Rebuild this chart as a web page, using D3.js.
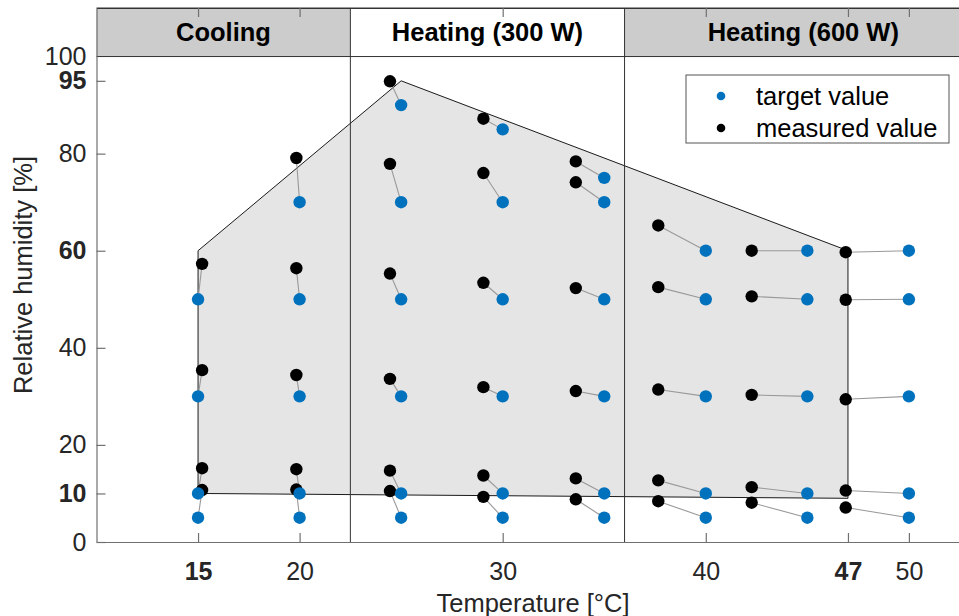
<!DOCTYPE html>
<html>
<head>
<meta charset="utf-8">
<script src="https://cdn.jsdelivr.net/npm/d3@7"></script>
<style>
  html, body { margin: 0; padding: 0; background: #fff; }
  svg { display: block; font-family: "Liberation Sans", Arial, Helvetica, sans-serif; }
</style>
</head>
<body>
<svg id="chart" width="959" height="616"></svg>
<script>
// ---- Data ----
const targetT   = [15,15,15,15, 20,20,20,20,20, 25,25,25,25,25,25, 30,30,30,30,30,30, 35,35,35,35,35,35, 40,40,40,40,40, 45,45,45,45,45, 50,50,50,50,50];
const targetH   = [5,10,30,50, 5,10,30,50,70, 5,10,30,50,70,90, 5,10,30,50,70,85, 5,10,30,50,70,75, 5,10,30,50,60, 5,10,30,50,60, 5,10,30,50,60];
const measuredT = [15.2,15.2,15.2,15.2, 19.84,19.84,19.84,19.84,19.84, 24.45,24.45,24.45,24.45,24.45,24.45, 29.05,29.05,29.05,29.05,29.05,29.05, 33.6,33.6,33.6,33.6,33.6,33.6, 37.66,37.66,37.66,37.66,37.66, 42.26,42.26,42.26,42.26,42.26, 46.89,46.89,46.89,46.89,46.89];
const measuredH = [10.7,15.2,35.4,57.3, 10.8,15.0,34.4,56.4,79.1, 10.5,14.7,33.6,55.3,77.9,94.9, 9.3,13.7,31.9,53.4,76.0,87.2, 8.8,13.1,31.1,52.3,74.1,78.4, 8.4,12.7,31.4,52.5,65.2, 8.1,11.3,30.3,50.6,60.0, 7.1,10.6,29.4,49.9,59.7];
const envelopeT = [15, 15, 25, 47, 47];
const envelopeH = [10, 60, 95, 60, 9];
const regionNames = ["Cooling", "Heating (300 W)", "Heating (600 W)"];
const regionBounds = [10, 22.5, 36, 53.6];
const xTicks = [15, 20, 30, 40, 47, 50];
const xBold  = [15, 47];
const yTicks = [0, 10, 20, 40, 60, 80, 95, 100];
const yBold  = [10, 60, 95];
const legendLabels = ["target value", "measured value"];

// ---- Setup ----
const svg = d3.select("#chart");
const x = d3.scaleLinear().domain([10, 53.6]).range([96.5, 982]);
const y = d3.scaleLinear().domain([0, 110]).range([542, 8]);
const blue = "#0072BD";
const textCol = "#262626";

// Header bands
svg.selectAll("rect.band").data(regionNames).enter().append("rect")
  .attr("x", (d, i) => x(regionBounds[i]))
  .attr("y", y(110))
  .attr("width", (d, i) => x(regionBounds[i + 1]) - x(regionBounds[i]))
  .attr("height", y(100) - y(110))
  .attr("fill", (d, i) => i === 1 ? "#ffffff" : "#cccccc");

svg.selectAll("text.band").data(regionNames).enter().append("text")
  .attr("x", (d, i) => (x(regionBounds[i]) + x(regionBounds[i + 1])) / 2)
  .attr("y", (y(110) + y(100)) / 2)
  .attr("text-anchor", "middle")
  .attr("dominant-baseline", "central")
  .attr("font-size", 25.5)
  .attr("font-weight", "bold")
  .attr("fill", "#000")
  .text(d => d);

// Envelope polygon
const envPts = envelopeT.map((t, i) => [x(t), y(envelopeH[i])]);
svg.append("path")
  .attr("d", d3.line()(envPts) + "Z")
  .attr("fill", "#e5e5e5")
  .attr("stroke", "#1a1a1a")
  .attr("stroke-width", 1);

// Header lines
[100, 110].forEach(v => {
  svg.append("line")
    .attr("x1", x(10)).attr("x2", x(53.6))
    .attr("y1", y(v)).attr("y2", y(v))
    .attr("stroke", "#333").attr("stroke-width", 1);
});
// Region dividers
regionBounds.slice(1, 3).forEach(b => {
  svg.append("line")
    .attr("x1", x(b)).attr("x2", x(b))
    .attr("y1", y(110)).attr("y2", y(0))
    .attr("stroke", "#333").attr("stroke-width", 1);
});

// Axes
const xAxis = svg.append("g").attr("transform", `translate(0,${y(0)})`)
  .call(d3.axisBottom(x).tickValues(xTicks).tickFormat(d3.format("d")).tickSizeInner(-9).tickSizeOuter(0).tickPadding(20));
const xAxisTop = svg.append("g").attr("transform", `translate(0,${y(110)})`)
  .call(d3.axisTop(x).tickValues(xTicks).tickFormat("").tickSizeInner(-9).tickSizeOuter(0));
const yAxis = svg.append("g").attr("transform", `translate(${x(10)},0)`)
  .call(d3.axisLeft(y).tickValues(yTicks).tickFormat(d3.format("d")).tickSizeInner(-9).tickSizeOuter(0).tickPadding(10));

[xAxis, xAxisTop, yAxis].forEach(g => {
  g.select(".domain").attr("stroke", "#707070").attr("stroke-width", 1.2);
  g.selectAll(".tick line").attr("stroke", "#707070").attr("stroke-width", 1.2);
  g.selectAll(".tick text").attr("fill", textCol).attr("font-size", 25)
    .attr("font-family", "'Liberation Sans', Arial, Helvetica, sans-serif");
});
xAxisTop.select(".domain").attr("stroke", "#333");
xAxis.selectAll(".tick text").attr("font-weight", d => xBold.includes(d) ? "bold" : "normal");
yAxis.selectAll(".tick text").attr("font-weight", d => yBold.includes(d) ? "bold" : "normal");
yAxis.selectAll(".tick").filter(d => d === 100).select("line").remove();

// Axis labels
svg.append("text")
  .attr("x", 533)
  .attr("y", 603)
  .attr("text-anchor", "middle")
  .attr("dominant-baseline", "central")
  .attr("font-size", 25.5)
  .attr("fill", textCol)
  .text("Temperature [°C]");
svg.append("text")
  .attr("transform", `translate(23,${(y(0) + y(110)) / 2}) rotate(-90)`)
  .attr("text-anchor", "middle")
  .attr("dominant-baseline", "central")
  .attr("font-size", 25.5)
  .attr("fill", textCol)
  .text("Relative humidity [%]");

// Connecting lines
svg.append("g").selectAll("line").data(targetT).enter().append("line")
  .attr("x1", (d, i) => x(targetT[i])).attr("y1", (d, i) => y(targetH[i]))
  .attr("x2", (d, i) => x(measuredT[i])).attr("y2", (d, i) => y(measuredH[i]))
  .attr("stroke", "#999").attr("stroke-width", 1.1);

// Measured points
svg.append("g").selectAll("circle").data(measuredT).enter().append("circle")
  .attr("cx", (d, i) => x(measuredT[i])).attr("cy", (d, i) => y(measuredH[i]))
  .attr("r", 6.2).attr("fill", "#000");

// Target points
svg.append("g").selectAll("circle").data(targetT).enter().append("circle")
  .attr("cx", (d, i) => x(targetT[i])).attr("cy", (d, i) => y(targetH[i]))
  .attr("r", 6.2).attr("fill", blue);

// Legend
const lg = svg.append("g");
lg.append("rect").attr("x", 686).attr("y", 75).attr("width", 263).attr("height", 68)
  .attr("fill", "#fff").attr("stroke", "#555").attr("stroke-width", 1);
legendLabels.forEach((lab, i) => {
  const cy = 96 + i * 32;
  lg.append("circle").attr("cx", 721).attr("cy", cy).attr("r", 4.3)
    .attr("fill", i === 0 ? blue : "#000");
  lg.append("text").attr("x", 756).attr("y", cy)
    .attr("dominant-baseline", "central")
    .attr("font-size", 25.5).attr("fill", "#000").text(lab);
});
</script>
</body>
</html>
